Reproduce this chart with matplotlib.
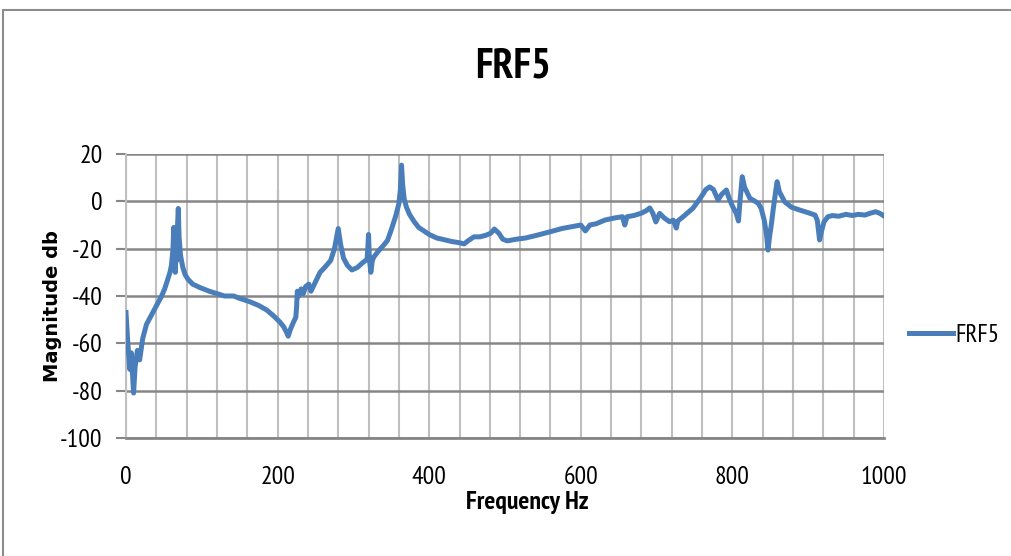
import matplotlib
matplotlib.use("Agg")
import matplotlib.pyplot as plt
from matplotlib import font_manager
from matplotlib.patches import Rectangle

plt.rcParams["axes.unicode_minus"] = False

avail = {f.name for f in font_manager.fontManager.ttflist}
FONT = "DejaVu Sans"
for cand in ["PT Sans Narrow", "Fira Sans Condensed", "Roboto Condensed",
             "Open Sans Condensed", "Archivo Narrow", "Asap Condensed"]:
    if cand in avail:
        FONT = cand
        break

title = "FRF5"
series_name = "FRF5"
x_label = "Frequency Hz"
y_label = "Magnitude db"
x_ticks = [0, 200, 400, 600, 800, 1000]
axis_cross_ticks = [200, 400, 600, 800]
y_ticks = [-100, -80, -60, -40, -20, 0, 20]

freq = [0, 2, 5, 7, 10, 12, 15, 18, 22, 27, 32, 37, 42, 47, 51, 55, 58, 60, 62, 63,
        64, 65, 66, 67, 68, 69, 70, 72, 75, 78, 82, 88, 98, 110, 120, 130, 142, 150,
        164, 175, 186, 195, 203, 208, 212, 214, 217, 221, 224, 225, 226, 228, 231,
        234, 237, 241, 244, 247, 250, 256, 262, 270, 275, 278, 280, 283, 287, 292,
        298, 305, 312, 318, 319, 320, 321, 323, 325, 327, 333, 340, 345, 350, 353,
        356, 358, 360, 362, 363.5, 365, 367, 370, 374, 380, 386, 393, 400, 410, 417,
        430, 440, 446, 452, 459, 467, 475, 481, 486, 492, 497, 503, 515, 527, 540,
        558, 575, 593, 600, 606, 612, 620, 632, 645, 655, 658, 661, 670, 680, 686,
        691, 695, 699, 704, 710, 717, 722, 726, 728, 735, 748, 758, 765, 770, 775,
        781, 786, 792, 796, 800, 805, 808, 810, 813, 816, 823, 830, 834, 838, 842,
        845, 847, 849, 851, 854, 857, 859, 862, 869, 878, 889, 900, 909, 912, 915,
        918, 921, 926, 932, 940, 950, 958, 966, 975, 982, 989, 994, 1000]

magnitude = [-47, -58, -71, -64, -81, -70, -63, -67, -58, -52, -49, -46, -43, -40, -37,
             -33, -30, -27, -20, -11, -22, -30, -18, -25, -10, -3, -15, -23, -28, -31,
             -33, -35, -36.5, -38, -39, -40, -40, -41, -42.5, -44, -46, -48.5, -51, -53,
             -55.5, -57, -54, -51, -49, -45, -38, -40, -37, -39, -36, -35, -38, -36, -34,
             -30, -28, -25, -20, -15, -11.5, -18, -24, -27, -29, -28, -26, -24.5, -20,
             -14, -24, -30, -25, -23.5, -21, -18.5, -16.5, -12, -9, -6, -3.5, -1, 5,
             15.3, 7, 1, -2.5, -5.5, -8.5, -11, -12.5, -14, -15.5, -16, -17, -17.5, -18,
             -16.5, -15, -15, -14.3, -13.5, -11.7, -13.5, -16, -16.7, -16, -15.5, -14.5,
             -13, -11.5, -10.4, -10, -12.5, -10, -9.5, -7.9, -7, -6.5, -10, -6.5, -6, -5,
             -4, -2.8, -5, -8.7, -5.1, -7, -8.6, -8, -11.3, -8.3, -6.5, -2.9, 1.5, 5, 6.1,
             5, 0.6, 3, 4.8, 1, -2, -5, -8.3, 0, 10.4, 6, 1.3, 0, -0.8, -3, -8, -14,
             -20.6, -15, -10.7, -3, 4, 8.3, 4, -0.2, -2.5, -3.7, -4.8, -5.8, -8, -16.3,
             -12, -8.6, -6.5, -6, -6.3, -5.5, -6, -5.5, -5.8, -5, -4.4, -5, -6.2]

LINE = "#4A7EBB"
DARK = "#868686"
LIGHT = "#BFBFBF"

fig = plt.figure(figsize=(10.12, 5.56), dpi=100)
fig.patches.append(Rectangle((3 / 1012, -0.1), 1.2, 1 - 10 / 556 + 0.1,
                             transform=fig.transFigure, fill=False,
                             edgecolor="#8C8C8C", linewidth=1.5))

ax = fig.add_axes([126 / 1012, 1 - 438 / 556, (884 - 126) / 1012, (438 - 154) / 556])
ax.plot(freq, magnitude, color=LINE, linewidth=3.6, solid_joinstyle="round",
        label=series_name, zorder=3)

ax.set_xlim(0, 1000)
ax.set_ylim(-100, 20)
ax.set_xticks(x_ticks)
ax.set_xticks(list(range(0, 1001, 40)), minor=True)
ax.set_yticks(y_ticks)
ax.xaxis.grid(True, which="both", color=LIGHT, linewidth=1.5, zorder=0)
ax.yaxis.grid(True, which="major", color=DARK, linewidth=1.8, zorder=1)
ax.set_axisbelow(True)

for s in ["top", "right"]:
    ax.spines[s].set_visible(False)
ax.spines["left"].set_color(LIGHT)
ax.spines["left"].set_linewidth(1.5)
ax.spines["bottom"].set_color(DARK)
ax.spines["bottom"].set_linewidth(2)

TICK_SIZE = 18.5
ax.tick_params(axis="x", which="both", length=0, pad=20, labelsize=TICK_SIZE)
ax.tick_params(axis="y", which="major", length=7, width=1.5, color=DARK,
               pad=10, labelsize=TICK_SIZE)
for lab in ax.get_xticklabels() + ax.get_yticklabels():
    lab.set_fontfamily(FONT)

# Excel-style category axis crossing at 0 dB: tick marks on the zero line
sec = ax.secondary_xaxis(100 / 120)
sec.set_xticks(axis_cross_ticks)
sec.set_xticklabels([])
sec.tick_params(axis="x", length=8, width=1.5, color="#707070", direction="out")
sec.spines["bottom"].set_visible(False)
sec.spines["top"].set_visible(False)

fig.text(513 / 1012, 1 - 67 / 556, title, ha="center", va="center",
         fontsize=30, fontweight="bold", family=FONT)
ax.set_xlabel(x_label, fontsize=18.5, fontweight="bold", family=FONT)
ax.xaxis.set_label_coords((527 - 126) / 758, (438 - 491) / 284)
ax.set_ylabel(y_label, fontsize=14, fontweight="bold", family="DejaVu Sans")
ax.yaxis.set_label_coords((62 - 126) / 758, (438 - 306) / 284)

fig.legend(loc="center left", bbox_to_anchor=(909 / 1012, 1 - 335 / 556),
           frameon=False, borderpad=0, borderaxespad=0, handlelength=1.75,
           handletextpad=0.12, prop={"family": FONT, "size": 18})

fig.savefig("out.png", dpi=100)
